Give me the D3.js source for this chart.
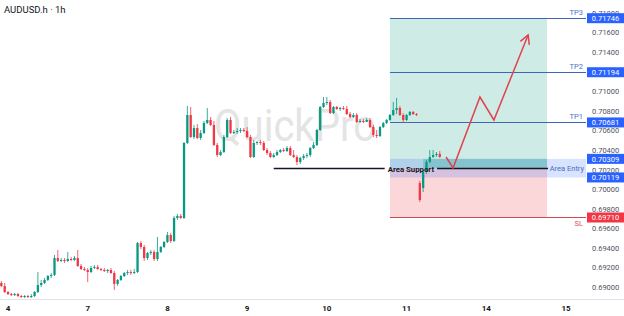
<!DOCTYPE html>
<html>
<head>
<meta charset="utf-8">
<script src="https://cdn.jsdelivr.net/npm/d3@7"></script>
<style>
  html, body { margin:0; padding:0; background:#ffffff; }
  #chart { width:624px; height:316px; }
</style>
</head>
<body>
<div id="chart"></div>
<script>
// hourly bars, bar 0 = day 4 00:00 ; rows are [open, high, low, close]
let firstBar = -2;
let candles = [
  [0.69041,0.69061,0.69000,0.69010],[0.69010,0.69041,0.68939,0.68949],[0.68949,0.68959,0.68918,0.68928],
  [0.68928,0.68939,0.68908,0.68918],[0.68918,0.68939,0.68908,0.68928],[0.68928,0.68939,0.68898,0.68908],
  [0.68908,0.68918,0.68888,0.68898],[0.68898,0.68918,0.68888,0.68908],[0.68908,0.68918,0.68888,0.68898],
  [0.68898,0.68928,0.68888,0.68908],[0.68908,0.68959,0.68898,0.68949],[0.68949,0.69153,0.68939,0.69020],
  [0.69020,0.69072,0.69000,0.69041],[0.69041,0.69092,0.69031,0.69072],[0.69072,0.69123,0.69061,0.69112],
  [0.69112,0.69143,0.69092,0.69123],[0.69123,0.69327,0.69112,0.69296],[0.69296,0.69378,0.69255,0.69266],
  [0.69266,0.69296,0.69255,0.69276],[0.69276,0.69296,0.69245,0.69266],[0.69266,0.69358,0.69255,0.69286],
  [0.69286,0.69306,0.69266,0.69276],[0.69276,0.69317,0.69266,0.69296],[0.69296,0.69378,0.69204,0.69215],
  [0.69215,0.69235,0.69174,0.69184],[0.69184,0.69204,0.69163,0.69174],[0.69174,0.69194,0.69051,0.69153],
  [0.69153,0.69215,0.69143,0.69194],[0.69194,0.69225,0.69184,0.69204],[0.69204,0.69225,0.69174,0.69184],
  [0.69184,0.69194,0.69163,0.69174],[0.69174,0.69194,0.69153,0.69163],[0.69163,0.69184,0.69143,0.69174],
  [0.69174,0.69194,0.69133,0.69143],[0.69143,0.69163,0.68969,0.69031],[0.69031,0.69082,0.69010,0.69072],
  [0.69072,0.69123,0.69061,0.69112],[0.69112,0.69153,0.69102,0.69143],[0.69143,0.69174,0.69123,0.69153],
  [0.69153,0.69174,0.69123,0.69143],[0.69143,0.69184,0.69133,0.69153],[0.69153,0.69460,0.69143,0.69449],
  [0.69449,0.69470,0.69388,0.69409],[0.69409,0.69429,0.69266,0.69296],[0.69296,0.69358,0.69276,0.69347],
  [0.69347,0.69378,0.69327,0.69358],[0.69358,0.69378,0.69266,0.69286],[0.69286,0.69511,0.69266,0.69358],
  [0.69358,0.69419,0.69347,0.69409],[0.69409,0.69470,0.69398,0.69460],[0.69460,0.69562,0.69449,0.69531],
  [0.69531,0.69552,0.69449,0.69470],[0.69470,0.69725,0.69460,0.69705],[0.69705,0.69746,0.69684,0.69725],
  [0.69725,0.69746,0.69695,0.69705],[0.69705,0.70481,0.69695,0.70471],[0.70471,0.70849,0.70461,0.70757],
  [0.70757,0.70839,0.70522,0.70532],[0.70532,0.70655,0.70512,0.70624],[0.70624,0.70665,0.70512,0.70522],
  [0.70522,0.70604,0.70502,0.70573],[0.70573,0.70696,0.70563,0.70675],[0.70675,0.70828,0.70665,0.70706],
  [0.70706,0.70737,0.70645,0.70655],[0.70655,0.70696,0.70440,0.70451],[0.70451,0.70471,0.70328,0.70348],
  [0.70348,0.70399,0.70338,0.70379],[0.70379,0.70553,0.70369,0.70532],[0.70532,0.70726,0.70522,0.70706],
  [0.70706,0.70737,0.70563,0.70573],[0.70573,0.70604,0.70563,0.70583],[0.70583,0.70624,0.70563,0.70594],
  [0.70594,0.70624,0.70573,0.70604],[0.70604,0.70624,0.70583,0.70594],[0.70594,0.70634,0.70522,0.70532],
  [0.70532,0.70553,0.70318,0.70328],[0.70328,0.70502,0.70318,0.70471],[0.70471,0.70491,0.70451,0.70481],
  [0.70481,0.70502,0.70451,0.70471],[0.70471,0.70491,0.70389,0.70399],[0.70399,0.70420,0.70348,0.70369],
  [0.70369,0.70389,0.70318,0.70328],[0.70328,0.70369,0.70318,0.70348],[0.70348,0.70399,0.70338,0.70379],
  [0.70379,0.70410,0.70369,0.70399],[0.70399,0.70420,0.70379,0.70389],[0.70389,0.70440,0.70379,0.70420],
  [0.70420,0.70440,0.70338,0.70348],[0.70348,0.70399,0.70318,0.70328],[0.70328,0.70348,0.70246,0.70277],
  [0.70277,0.70328,0.70256,0.70318],[0.70318,0.70359,0.70297,0.70338],[0.70338,0.70369,0.70318,0.70348],
  [0.70348,0.70430,0.70328,0.70420],[0.70420,0.70481,0.70410,0.70451],[0.70451,0.70614,0.70440,0.70604],
  [0.70604,0.70849,0.70594,0.70839],[0.70839,0.70941,0.70828,0.70880],[0.70880,0.70941,0.70859,0.70890],
  [0.70890,0.70910,0.70767,0.70777],[0.70777,0.70849,0.70767,0.70839],[0.70839,0.70849,0.70808,0.70818],
  [0.70818,0.70839,0.70798,0.70828],[0.70828,0.70849,0.70808,0.70818],[0.70818,0.70849,0.70757,0.70767],
  [0.70767,0.70788,0.70726,0.70737],[0.70737,0.70777,0.70726,0.70757],[0.70757,0.70777,0.70675,0.70686],
  [0.70686,0.70716,0.70675,0.70696],[0.70696,0.70716,0.70675,0.70686],[0.70686,0.70726,0.70686,0.70706],
  [0.70706,0.70726,0.70624,0.70634],[0.70634,0.70655,0.70532,0.70553],[0.70553,0.70604,0.70522,0.70542],
  [0.70542,0.70645,0.70532,0.70634],[0.70634,0.70686,0.70624,0.70675],[0.70675,0.70716,0.70665,0.70706],
  [0.70706,0.70767,0.70696,0.70757],[0.70757,0.70890,0.70747,0.70808],[0.70808,0.70931,0.70767,0.70828],
  [0.70828,0.70849,0.70747,0.70757],[0.70757,0.70777,0.70675,0.70706],[0.70706,0.70767,0.70696,0.70757],
  [0.70757,0.70798,0.70747,0.70788],[0.70788,0.70798,0.70757,0.70767],[0.70767,0.70777,0.70747,0.70757],
  [0.70062,0.70083,0.69868,0.69889],[0.70011,0.70195,0.69970,0.70175],[0.70175,0.70297,0.70154,0.70277],
  [0.70277,0.70399,0.70267,0.70328],[0.70328,0.70399,0.70318,0.70348],[0.70348,0.70379,0.70328,0.70359],
  [0.70359,0.70389,0.70318,0.70328]
];

let dayLabels  = ["4","7","8","9","10","11","14","15"];
let dayBars    = [0, 24, 48, 72, 96, 120, 144, 168];
let priceTicks = [0.690,0.692,0.694,0.696,0.698,0.700,0.702,0.704,0.706,0.708,0.710,0.712,0.714,0.716,0.718];

let levelNames  = ["TP3", "TP2", "TP1", "SL"];
let levelPrices = [0.71746, 0.71194, 0.70681, 0.69710];
let entryTop    = 0.70309;
let entryBottom = 0.70119;
let supportPrice = 0.70216;
let supportBars  = [80, 162.6];
let positionBars = [115, 162.3];
let entryDarkFrom = 125;
let arrowBars   = [131.9, 134.0, 142.1, 146.3, 156.6];
let arrowPrices = [0.70328, 0.70216, 0.70941, 0.70706, 0.71574];

let W = 624, H = 316, plotR = 586;
let fontF = "Roboto, 'Noto Sans', sans-serif";
let upClr = "#089981", dnClr = "#f23645", lvlClr = "#2962ff";

let x = d3.scaleLinear().domain([-2.41, 174.03]).range([0, plotR]);
let y = d3.scaleLinear().domain([0.69, 0.718]).range([287, 12.9]);

let svg = d3.select("#chart").append("svg")
            .attr("width", W)
            .attr("height", H)
            .style("font-family", fontF);

// watermark
svg.append("text")
    .attr("x", 295).attr("y", 141)
    .attr("text-anchor", "middle")
    .attr("font-size", 44)
    .attr("textLength", 162)
    .attr("lengthAdjust", "spacingAndGlyphs")
    .attr("fill", "#e4e4e4")
    .text("QuickPro");

// long position boxes
svg.append("rect")
    .attr("x", x(positionBars[0])).attr("width", x(positionBars[1]) - x(positionBars[0]))
    .attr("y", y(levelPrices[0])).attr("height", y(supportPrice) - y(levelPrices[0]))
    .attr("fill", "rgba(8,153,129,0.2)");
svg.append("rect")
    .attr("x", x(positionBars[0])).attr("width", x(positionBars[1]) - x(positionBars[0]))
    .attr("y", y(supportPrice)).attr("height", y(levelPrices[3]) - y(supportPrice))
    .attr("fill", "rgba(242,54,69,0.2)");

// entry zone
svg.append("rect")
    .attr("x", x(positionBars[0])).attr("width", plotR - x(positionBars[0]))
    .attr("y", y(entryTop)).attr("height", y(entryBottom) - y(entryTop))
    .attr("fill", "rgba(41,98,255,0.18)");
svg.append("rect")
    .attr("x", x(entryDarkFrom)).attr("width", x(positionBars[1]) - x(entryDarkFrom))
    .attr("y", y(entryTop)).attr("height", y(supportPrice) - y(entryTop))
    .attr("fill", "rgba(8,153,129,0.25)");

// level lines
levelPrices.forEach((p, i) => {
    svg.append("line")
        .attr("x1", x(positionBars[0])).attr("x2", plotR)
        .attr("y1", Math.round(y(p)) + 0.5).attr("y2", Math.round(y(p)) + 0.5)
        .attr("stroke", levelNames[i] == "SL" ? "#d04a55" : "#3c67b8")
        .attr("stroke-width", 1);
    svg.append("text")
        .attr("x", 583)
        .attr("y", levelNames[i] == "SL" ? y(p) + 9 : y(p) - 3)
        .attr("text-anchor", "end")
        .attr("font-size", 7.5)
        .attr("fill", levelNames[i] == "SL" ? "#e0505c" : "#4a72c8")
        .text(levelNames[i]);
});

// candles
let bodyW = 2.3;
let cg = svg.append("g").attr("class", "candles");
candles.forEach((c, i) => {
    let bx  = x(firstBar + i);
    let clr = c[3] >= c[0] ? upClr : dnClr;
    cg.append("line")
        .attr("x1", bx).attr("x2", bx)
        .attr("y1", y(c[1])).attr("y2", y(c[2]))
        .attr("stroke", clr).attr("stroke-width", 0.8);
    let top = y(Math.max(c[0], c[3])), bot = y(Math.min(c[0], c[3]));
    cg.append("rect")
        .attr("x", bx - bodyW / 2).attr("width", bodyW)
        .attr("y", top).attr("height", Math.max(bot - top, 1))
        .attr("fill", clr);
});

// area support line with label in the middle
let supY = Math.round(y(supportPrice)) + 0.5;
let supMid = (x(supportBars[0]) + x(supportBars[1])) / 2;
let supTxt = svg.append("text")
    .attr("x", supMid).attr("y", supY + 3)
    .attr("text-anchor", "middle")
    .attr("font-size", 7.8)
    .attr("font-weight", "bold")
    .attr("fill", "#131722")
    .text("Area Support");
let tw = supTxt.node().getComputedTextLength();
svg.append("line")
    .attr("x1", x(supportBars[0])).attr("x2", supMid - tw / 2 - 3)
    .attr("y1", supY).attr("y2", supY)
    .attr("stroke", "#131722").attr("stroke-width", 1.3);
svg.append("line")
    .attr("x1", supMid + tw / 2 + 3).attr("x2", x(supportBars[1]))
    .attr("y1", supY).attr("y2", supY)
    .attr("stroke", "#131722").attr("stroke-width", 1.3);

svg.append("text")
    .attr("x", 584).attr("y", y((entryTop + entryBottom) / 2) + 3)
    .attr("text-anchor", "end")
    .attr("font-size", 7.5)
    .attr("fill", "#4a6fc0")
    .text("Area Entry");

// projected path arrow
let pts = arrowBars.map((b, i) => [x(b), y(arrowPrices[i])]);
svg.append("path")
    .attr("d", d3.line()(pts))
    .attr("fill", "none")
    .attr("stroke", "#e0424e")
    .attr("stroke-width", 1.5)
    .attr("stroke-linejoin", "miter");
let tip = pts[pts.length - 1], prev = pts[pts.length - 2];
let ang = Math.atan2(tip[1] - prev[1], tip[0] - prev[0]);
let headLen = 10, spread = 0.5;
let head = [
    [tip[0] - headLen * Math.cos(ang - spread), tip[1] - headLen * Math.sin(ang - spread)],
    tip,
    [tip[0] - headLen * Math.cos(ang + spread), tip[1] - headLen * Math.sin(ang + spread)]
];
svg.append("path")
    .attr("d", d3.line()(head))
    .attr("fill", "none")
    .attr("stroke", "#e0424e")
    .attr("stroke-width", 1.5);

// price scale
let pg = svg.append("g").attr("class", "priceAxis");
priceTicks.forEach(v => {
    pg.append("text")
        .attr("x", 592).attr("y", y(v) + 3)
        .attr("font-size", 7.5)
        .attr("fill", "#50535e")
        .text(v.toFixed(5));
});
let boxVals = [levelPrices[0], levelPrices[1], levelPrices[2], entryTop, entryBottom, levelPrices[3]];
boxVals.forEach(v => {
    let isSL = v == levelPrices[3];
    pg.append("rect")
        .attr("x", 587).attr("width", 37)
        .attr("y", y(v) - 5).attr("height", 10)
        .attr("fill", isSL ? dnClr : lvlClr);
    pg.append("text")
        .attr("x", 605.5).attr("y", y(v) + 3)
        .attr("text-anchor", "middle")
        .attr("font-size", 7.5)
        .attr("fill", "#ffffff")
        .text(v.toFixed(5));
});

// time scale
svg.append("line")
    .attr("x1", 0).attr("x2", W)
    .attr("y1", 299.5).attr("y2", 299.5)
    .attr("stroke", "#e0e3eb");
dayLabels.forEach((d, i) => {
    svg.append("text")
        .attr("x", x(dayBars[i])).attr("y", 311)
        .attr("text-anchor", "middle")
        .attr("font-size", 8)
        .attr("font-weight", "bold")
        .attr("fill", "#131722")
        .text(d);
});

// title
svg.append("text")
    .attr("x", 4).attr("y", 13)
    .attr("font-size", 9.5)
    .attr("fill", "#131722")
    .text("AUDUSD.h \u00b7 1h");
</script>
</body>
</html>
